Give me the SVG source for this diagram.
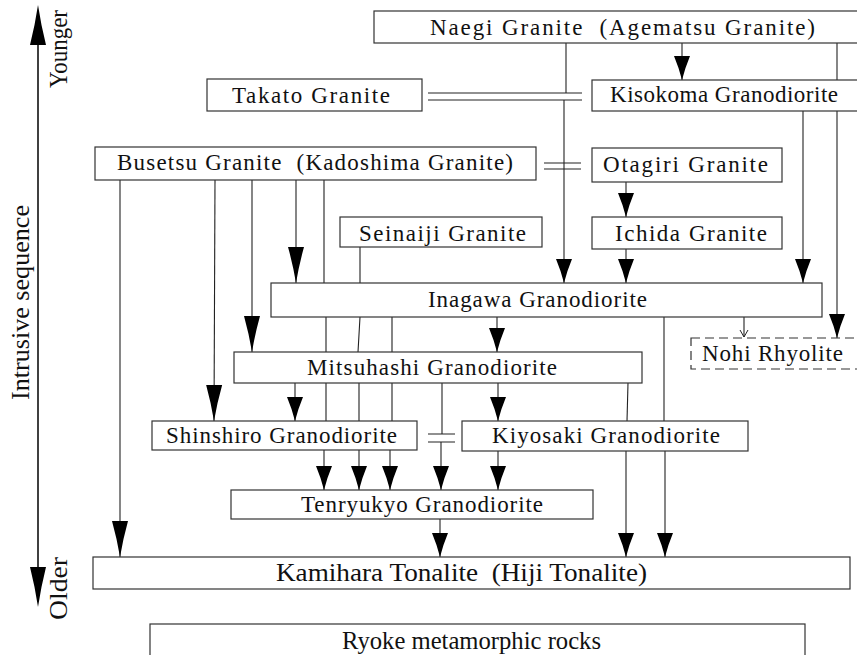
<svg xmlns="http://www.w3.org/2000/svg" width="857" height="655" viewBox="0 0 857 655">
<style>
.box{fill:#fff;stroke:#333;stroke-width:1.2}
.dash{fill:#fff;stroke:#333;stroke-width:1.2;stroke-dasharray:9 5}
.t{font-family:"Liberation Serif","Times New Roman",serif;font-size:23px;fill:#111}
.k{font-family:"Liberation Serif","Times New Roman",serif;font-size:26px;fill:#111}
.ax{font-family:"Liberation Serif","Times New Roman",serif;font-size:26px;fill:#111}
.c{fill:none;stroke:#222;stroke-width:1.1}
</style>
<defs>
<marker id="s" markerUnits="userSpaceOnUse" markerWidth="26" markerHeight="18" viewBox="-25 -9 26 18" refX="0" refY="0" orient="auto">
<path d="M0,0 Q-12,-3 -24,-8 L-24,8 Q-12,3 0,0 Z" fill="#000"/>
</marker>
<marker id="l" markerUnits="userSpaceOnUse" markerWidth="38" markerHeight="18" viewBox="-37 -9 38 18" refX="0" refY="0" orient="auto">
<path d="M0,0 Q-18,-3 -36,-8 L-36,8 Q-18,3 0,0 Z" fill="#000"/>
</marker>
<marker id="v" markerUnits="userSpaceOnUse" markerWidth="10" markerHeight="10" viewBox="-8 -5 9 10" refX="0" refY="0" orient="auto">
<path d="M-7,-4 L0,0 L-7,4" fill="none" stroke="#222" stroke-width="1"/>
</marker>
</defs>

<g id="axis">
<line x1="38" y1="40" x2="38" y2="572" stroke="#000" stroke-width="1.5"/>
<path d="M38,5 Q35,25 30,45 L46,45 Q41,25 38,5 Z" fill="#000"/>
<path d="M38,607 Q35,587 30,567 L46,567 Q41,587 38,607 Z" fill="#000"/>
<text class="ax" transform="translate(67,88) rotate(-90)" textLength="78" lengthAdjust="spacingAndGlyphs">Younger</text>
<text class="ax" transform="translate(29,400) rotate(-90)" textLength="195" lengthAdjust="spacingAndGlyphs">Intrusive sequence</text>
<text class="ax" transform="translate(67,620) rotate(-90)" textLength="63" lengthAdjust="spacingAndGlyphs">Older</text>
</g>

<g id="connectors">
<path class="c" d="M120,180 V557" marker-end="url(#l)"/>
<path class="c" d="M215,180 L214,421" marker-end="url(#l)"/>
<path class="c" d="M252,180 V352" marker-end="url(#l)"/>
<path class="c" d="M296,180 V283" marker-end="url(#l)"/>
<path class="c" d="M324,180 V283 M326,317 V352 M326,383 V421"/>
<path class="c" d="M324,450 V490" marker-end="url(#s)"/>
<path class="c" d="M360,247 V283 M360,317 L358,352 M359,383 V421"/>
<path class="c" d="M359,450 V490" marker-end="url(#s)"/>
<path class="c" d="M392,317 V352 M392,383 V421"/>
<path class="c" d="M390,450 V490" marker-end="url(#s)"/>
<path class="c" d="M497,317 V352" marker-end="url(#s)"/>
<path class="c" d="M664,317 V421"/>
<path class="c" d="M665,451 V557" marker-end="url(#s)"/>
<path class="c" d="M744,317 V337" marker-end="url(#v)"/>
<path class="c" d="M295,383 V421" marker-end="url(#s)"/>
<path class="c" d="M498,383 V421" marker-end="url(#s)"/>
<path class="c" d="M442,383 V434"/>
<path class="c" d="M441,442 V490" marker-end="url(#s)"/>
<path class="c" d="M428,434 H455 M428,442 H455"/>
<path class="c" d="M628,383 L627,421"/>
<path class="c" d="M626,451 V557" marker-end="url(#s)"/>
<path class="c" d="M498,451 V490" marker-end="url(#s)"/>
<path class="c" d="M440,519 V557" marker-end="url(#s)"/>
<path class="c" d="M682,43 V80" marker-end="url(#s)"/>
<path class="c" d="M566,43 V93"/>
<path class="c" d="M564,100 V283" marker-end="url(#s)"/>
<path class="c" d="M837,43 V80"/>
<path class="c" d="M837,111 V338" marker-end="url(#s)"/>
<path class="c" d="M428,93 H582 M428,100 H582"/>
<path class="c" d="M544,163 H581 M544,169 H581"/>
<path class="c" d="M626,182 V217" marker-end="url(#s)"/>
<path class="c" d="M626,249 V283" marker-end="url(#s)"/>
<path class="c" d="M803,111 V283" marker-end="url(#s)"/>
</g>

<g id="naegi"><rect class="box" x="374" y="11" width="500" height="32"/><text class="t" x="430" y="35" textLength="385" xml:space="preserve">Naegi Granite  (Agematsu Granite)</text></g>
<g id="takato"><rect class="box" x="207" y="79" width="215" height="32"/><text class="t" x="232" y="103" textLength="158">Takato Granite</text></g>
<g id="kisokoma"><rect class="box" x="592" y="80" width="282" height="31"/><text class="t" x="610" y="102" textLength="228">Kisokoma Granodiorite</text></g>
<g id="busetsu"><rect class="box" x="95" y="147" width="441" height="33"/><text class="t" x="117" y="170" textLength="396" xml:space="preserve">Busetsu Granite  (Kadoshima Granite)</text></g>
<g id="otagiri"><rect class="box" x="592" y="148" width="190" height="34"/><text class="t" x="603" y="172" textLength="165">Otagiri Granite</text></g>
<g id="seinaiji"><rect class="box" x="340" y="217" width="202" height="30"/><text class="t" x="359" y="241" textLength="167">Seinaiji Granite</text></g>
<g id="ichida"><rect class="box" x="592" y="217" width="190" height="32"/><text class="t" x="615" y="241" textLength="152">Ichida Granite</text></g>
<g id="inagawa"><rect class="box" x="271" y="283" width="551" height="34"/><text class="t" x="428" y="307" textLength="219">Inagawa Granodiorite</text></g>
<g id="nohi"><rect class="dash" x="691" y="338" width="183" height="31"/><text class="t" x="702" y="361" textLength="141">Nohi Rhyolite</text></g>
<g id="mitsuhashi"><rect class="box" x="234" y="352" width="408" height="31"/><text class="t" x="307" y="375" textLength="250">Mitsuhashi Granodiorite</text></g>
<g id="shinshiro"><rect class="box" x="152" y="421" width="265" height="29"/><text class="t" x="166" y="443" textLength="231">Shinshiro Granodiorite</text></g>
<g id="kiyosaki"><rect class="box" x="462" y="421" width="286" height="30"/><text class="t" x="492" y="443" textLength="228">Kiyosaki Granodiorite</text></g>
<g id="tenryukyo"><rect class="box" x="231" y="490" width="362" height="29"/><text class="t" x="301" y="512" textLength="242">Tenryukyo Granodiorite</text></g>
<g id="kamihara"><rect class="box" x="93" y="557" width="757" height="32"/><text class="k" x="276" y="581" textLength="371" lengthAdjust="spacingAndGlyphs" xml:space="preserve">Kamihara Tonalite  (Hiji Tonalite)</text></g>
<g id="ryoke"><rect class="box" x="150" y="624" width="655" height="40"/><text class="k" x="342" y="649" textLength="259" lengthAdjust="spacingAndGlyphs">Ryoke metamorphic rocks</text></g>
</svg>
